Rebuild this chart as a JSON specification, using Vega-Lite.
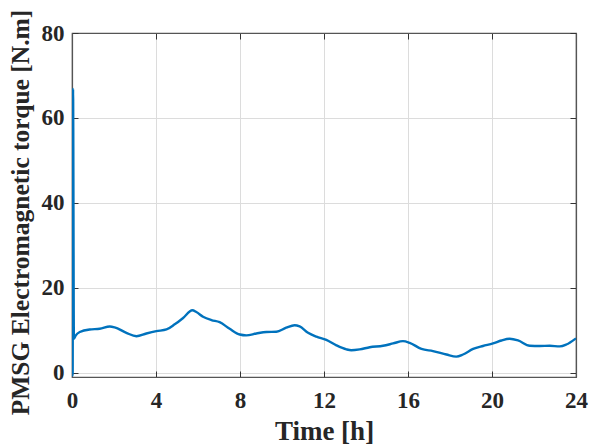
{
  "$schema": "https://vega.github.io/schema/vega-lite/v6.json",
  "autosize": "none",
  "width": 504,
  "height": 344,
  "padding": {"left": 72, "top": 33, "right": 29, "bottom": 69},
  "background": "white",
  "config": {
    "view": {"stroke": "#555555", "strokeWidth": 1.2},
    "font": "Liberation Serif"
  },
  "data": {
    "values": [
      {"t": 0.0, "v": -0.5},
      {"t": 0.03, "v": -0.6},
      {"t": 0.05, "v": 66.8},
      {"t": 0.09, "v": 8.0},
      {"t": 0.18, "v": 8.8},
      {"t": 0.37, "v": 9.6},
      {"t": 0.84, "v": 10.2},
      {"t": 1.32, "v": 10.35},
      {"t": 1.8, "v": 10.9},
      {"t": 2.03, "v": 10.7},
      {"t": 2.59, "v": 9.4},
      {"t": 3.07, "v": 8.6},
      {"t": 3.54, "v": 9.25},
      {"t": 4.02, "v": 9.8},
      {"t": 4.5, "v": 10.2},
      {"t": 4.89, "v": 11.4},
      {"t": 5.29, "v": 12.9},
      {"t": 5.73, "v": 14.7},
      {"t": 5.92, "v": 14.3},
      {"t": 6.24, "v": 13.2},
      {"t": 6.64, "v": 12.4},
      {"t": 7.03, "v": 11.9},
      {"t": 7.51, "v": 10.35},
      {"t": 7.99, "v": 9.0},
      {"t": 8.3, "v": 8.8},
      {"t": 8.78, "v": 9.25},
      {"t": 9.26, "v": 9.6},
      {"t": 9.73, "v": 9.65},
      {"t": 10.2, "v": 10.6},
      {"t": 10.6, "v": 11.2},
      {"t": 10.84, "v": 10.9},
      {"t": 11.24, "v": 9.4},
      {"t": 11.64, "v": 8.5},
      {"t": 12.11, "v": 7.75},
      {"t": 12.59, "v": 6.45},
      {"t": 13.07, "v": 5.5},
      {"t": 13.3, "v": 5.3},
      {"t": 13.7, "v": 5.5},
      {"t": 14.18, "v": 6.0},
      {"t": 14.81, "v": 6.35},
      {"t": 15.29, "v": 6.9},
      {"t": 15.76, "v": 7.45},
      {"t": 16.08, "v": 7.05},
      {"t": 16.64, "v": 5.6},
      {"t": 17.19, "v": 5.1},
      {"t": 17.83, "v": 4.3},
      {"t": 18.3, "v": 3.8},
      {"t": 18.62, "v": 4.3},
      {"t": 19.1, "v": 5.6},
      {"t": 19.57, "v": 6.3},
      {"t": 20.05, "v": 6.9},
      {"t": 20.45, "v": 7.6},
      {"t": 20.84, "v": 8.0},
      {"t": 21.24, "v": 7.6},
      {"t": 21.8, "v": 6.35},
      {"t": 22.27, "v": 6.3},
      {"t": 22.75, "v": 6.35},
      {"t": 23.23, "v": 6.2},
      {"t": 23.54, "v": 6.65},
      {"t": 24.0, "v": 8.1}
    ]
  },
  "layer": [
    {
      "mark": {"type": "line", "color": "#0072BD", "strokeWidth": 2.4, "interpolate": "monotone", "clip": true},
      "encoding": {
        "x": {
          "field": "t", "type": "quantitative",
          "scale": {"domain": [0, 24], "nice": false, "zero": false},
          "axis": {
            "orient": "bottom",
            "values": [0, 4, 8, 12, 16, 20, 24],
            "title": "Time [h]",
            "titleFont": "Liberation Serif", "titleFontSize": 27, "titleFontWeight": "bold", "titleColor": "#262626",
            "titlePadding": 6,
            "labelFont": "Liberation Serif", "labelFontSize": 23, "labelFontWeight": "bold", "labelColor": "#262626",
            "labelPadding": 18,
            "labelFlush": false,
            "tickSize": -6, "tickColor": "#333333", "tickWidth": 1,
            "domain": true, "domainColor": "#555555", "domainWidth": 1.2,
            "grid": true, "gridColor": "#dcdcdc", "gridWidth": 1
          }
        },
        "y": {
          "field": "v", "type": "quantitative",
          "scale": {"domain": [-1, 80], "nice": false, "zero": false},
          "axis": {
            "orient": "left",
            "values": [0, 20, 40, 60, 80],
            "title": "PMSG Electromagnetic torque [N.m]",
            "titleFont": "Liberation Serif", "titleFontSize": 25.5, "titleFontWeight": "bold", "titleColor": "#262626",
            "titlePadding": 8,
            "titleY": 179,
            "labelFont": "Liberation Serif", "labelFontSize": 23, "labelFontWeight": "bold", "labelColor": "#262626",
            "labelPadding": 14,
            "labelFlush": false,
            "tickSize": -6, "tickColor": "#333333", "tickWidth": 1,
            "domain": true, "domainColor": "#555555", "domainWidth": 1.2,
            "grid": true, "gridColor": "#dcdcdc", "gridWidth": 1
          }
        }
      }
    },
    {
      "mark": {"type": "line", "opacity": 0},
      "encoding": {
        "x": {
          "field": "t", "type": "quantitative",
          "scale": {"domain": [0, 24], "nice": false, "zero": false},
          "axis": {
            "orient": "top", "values": [0, 4, 8, 12, 16, 20, 24], "title": null,
            "labels": false, "tickSize": -6, "tickColor": "#333333", "domainColor": "#555555", "domainWidth": 1.2, "grid": false
          }
        },
        "y": {
          "field": "v", "type": "quantitative",
          "scale": {"domain": [-1, 80], "nice": false, "zero": false},
          "axis": {
            "orient": "right", "values": [0, 20, 40, 60, 80], "title": null,
            "labels": false, "tickSize": -6, "tickColor": "#333333", "domainColor": "#555555", "domainWidth": 1.2, "grid": false
          }
        }
      }
    }
  ],
  "resolve": {"axis": {"x": "independent", "y": "independent"}}
}
